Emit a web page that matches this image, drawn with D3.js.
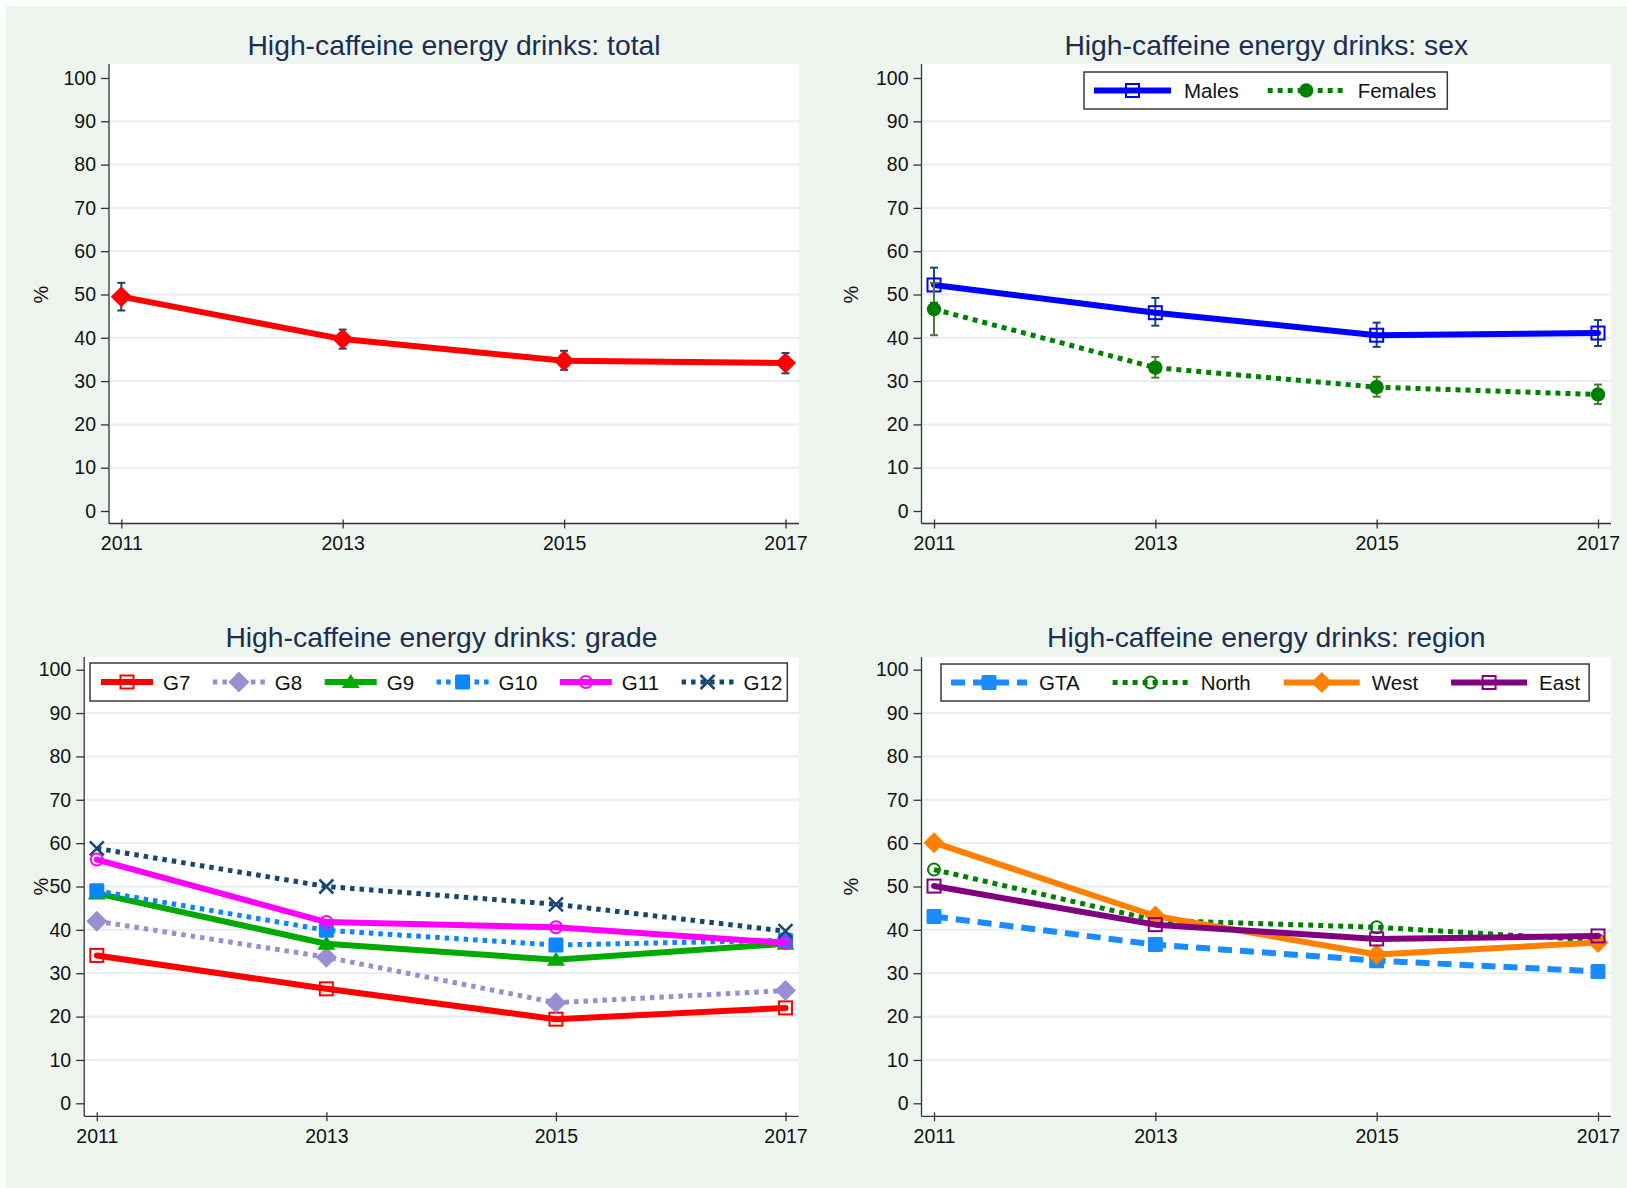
<!DOCTYPE html>
<html>
<head>
<meta charset="utf-8">
<script src="https://cdn.jsdelivr.net/npm/d3@7"></script>
<style>
  html, body { margin: 0; padding: 0; background: #ffffff; }
  svg { display: block; }
  text { font-family: "Liberation Sans", Arial, sans-serif; }
</style>
</head>
<body>
<svg id="chart" width="1627" height="1188"></svg>
<script>
// ---------------- DATA ----------------
const years = [2011, 2013, 2015, 2017];
const yTicks = [0, 10, 20, 30, 40, 50, 60, 70, 80, 90, 100];
const gridTicks = [10, 20, 30, 40, 50, 60, 70, 80, 90];

const titleTotal = "High-caffeine energy drinks: total";
const titleSex = "High-caffeine energy drinks: sex";
const titleGrade = "High-caffeine energy drinks: grade";
const titleRegion = "High-caffeine energy drinks: region";
const yLabel = "%";

// total
const totalValues = [49.5, 39.7, 34.7, 34.2];
const totalLower  = [46.3, 37.5, 32.6, 31.8];
const totalUpper  = [52.7, 41.9, 37.0, 36.5];

// sex
const sexNames = ["Males", "Females"];
const malesValues  = [52.2, 45.8, 40.6, 41.1];
const malesLower   = [48.1, 42.8, 37.9, 38.1];
const malesUpper   = [56.2, 49.2, 43.5, 44.1];
const femalesValues = [46.6, 33.1, 28.6, 26.9];
const femalesLower  = [40.6, 30.8, 26.4, 24.7];
const femalesUpper  = [52.7, 35.6, 31.0, 29.2];

// grade
const gradeNames = ["G7", "G8", "G9", "G10", "G11", "G12"];
const g7Values  = [34.1, 26.4, 19.4, 22.0];
const g8Values  = [42.0, 33.7, 23.2, 26.0];
const g9Values  = [48.4, 36.8, 33.1, 36.8];
const g10Values = [49.0, 39.9, 36.5, 37.6];
const g11Values = [56.2, 41.8, 40.6, 37.0];
const g12Values = [58.8, 50.0, 45.9, 39.7];

// region
const regionNames = ["GTA", "North", "West", "East"];
const gtaValues   = [43.1, 36.6, 32.9, 30.4];
const northValues = [53.9, 42.2, 40.6, 37.6];
const westValues  = [60.1, 43.2, 34.3, 37.1];
const eastValues  = [50.1, 41.2, 37.9, 38.6];

// ---------------- STYLE ----------------
const FONT = '"Liberation Sans", Arial, sans-serif';
const BG = "#eef5ef";
const GRID = "#e6eef1";
const TITLE_COLOR = "#1c2d52";
const NAVY = "#1a476f";
const OLIVE = "#55752f";

const svg = d3.select("#chart");
svg.append("rect").attr("x", 0).attr("y", 0).attr("width", 1627).attr("height", 1188).attr("fill", "#ffffff");
svg.append("rect").attr("x", 6).attr("y", 6).attr("width", 1621).attr("height", 1182).attr("fill", BG);

const panels = [
  {left: 109,   right: 799,  top: 64,  bottom: 523.5, y100: 78,    y0: 511,    x0: 121.3, x1: 785.5, titleY: 55,  labelX: 41,  title: titleTotal},
  {left: 921.5, right: 1611, top: 64,  bottom: 523.5, y100: 78,    y0: 511,    x0: 934,   x1: 1598,  titleY: 55,  labelX: 851, title: titleSex},
  {left: 84.2,  right: 798.6,top: 657, bottom: 1116.3,y100: 669.7, y0: 1103.3, x0: 96.8,  x1: 785.5, titleY: 647, labelX: 41,  title: titleGrade},
  {left: 921.5, right: 1611, top: 657, bottom: 1116.3,y100: 669.7, y0: 1103.3, x0: 934,   x1: 1598,  titleY: 647, labelX: 851, title: titleRegion}
];

function setupPanel(p) {
  const g = svg.append("g");
  const x = d3.scaleLinear().domain([2011, 2017]).range([p.x0, p.x1]);
  const y = d3.scaleLinear().domain([0, 100]).range([p.y0, p.y100]);
  g.append("rect").attr("x", p.left).attr("y", p.top)
    .attr("width", p.right - p.left).attr("height", p.bottom - p.top).attr("fill", "#ffffff");
  g.selectAll("line.grid").data(gridTicks).enter().append("line")
    .attr("x1", p.left + 1).attr("x2", p.right)
    .attr("y1", d => y(d)).attr("y2", d => y(d))
    .attr("stroke", GRID).attr("stroke-width", 2);
  const ya = g.append("g").attr("transform", `translate(${p.left},0)`)
    .call(d3.axisLeft(y).tickValues(yTicks).tickSize(8).tickPadding(5).tickFormat(d3.format("d")));
  ya.select(".domain").remove();
  ya.selectAll(".tick line").attr("stroke", "#333").attr("stroke-width", 1.3);
  ya.selectAll(".tick text").attr("font-family", FONT).attr("font-size", "19.5px").attr("fill", "#111");
  g.append("line").attr("x1", p.left).attr("x2", p.left).attr("y1", p.top).attr("y2", p.bottom)
    .attr("stroke", "#333").attr("stroke-width", 1.3);
  const xa = g.append("g").attr("transform", `translate(0,${p.bottom})`)
    .call(d3.axisBottom(x).tickValues(years).tickSize(5).tickPadding(8).tickFormat(d3.format("d")));
  xa.select(".domain").remove();
  xa.selectAll(".tick line").attr("y1", -4).attr("y2", 5).attr("stroke", "#333").attr("stroke-width", 1.3);
  xa.selectAll(".tick text").attr("font-family", FONT).attr("font-size", "19.5px").attr("fill", "#111");
  g.append("line").attr("x1", p.left).attr("x2", p.right).attr("y1", p.bottom).attr("y2", p.bottom)
    .attr("stroke", "#333").attr("stroke-width", 1.3);
  g.append("text").attr("x", (p.left + p.right) / 2).attr("y", p.titleY)
    .attr("text-anchor", "middle").attr("font-family", FONT).attr("font-size", "28.3px")
    .attr("fill", TITLE_COLOR).text(p.title);
  g.append("text").attr("transform", `translate(${p.labelX},${(p.y0 + p.y100) / 2}) rotate(-90)`)
    .attr("text-anchor", "middle").attr("dominant-baseline", "central")
    .attr("font-family", FONT).attr("font-size", "20px").attr("fill", "#111").text(yLabel);
  return {g, x, y};
}

function drawMarker(g, type, cx, cy, color) {
  let s;
  switch (type) {
    case "diamond":
      s = 10.5;
      g.append("path").attr("d", `M${cx},${cy - s}L${cx + s},${cy}L${cx},${cy + s}L${cx - s},${cy}Z`).attr("fill", color);
      break;
    case "squareHollow":
      s = 6.5;
      g.append("rect").attr("x", cx - s).attr("y", cy - s).attr("width", 2 * s).attr("height", 2 * s)
        .attr("fill", "none").attr("stroke", color).attr("stroke-width", 2);
      break;
    case "squareFilled":
      s = 7.5;
      g.append("rect").attr("x", cx - s).attr("y", cy - s).attr("width", 2 * s).attr("height", 2 * s)
        .attr("rx", 1.5).attr("fill", color);
      break;
    case "circleFilled":
      g.append("circle").attr("cx", cx).attr("cy", cy).attr("r", 7.2).attr("fill", color);
      break;
    case "circleHollow":
      g.append("circle").attr("cx", cx).attr("cy", cy).attr("r", 6)
        .attr("fill", "none").attr("stroke", color).attr("stroke-width", 2);
      break;
    case "triangle":
      g.append("path").attr("d", `M${cx},${cy - 8}L${cx + 9},${cy + 6}L${cx - 9},${cy + 6}Z`).attr("fill", color);
      break;
    case "x":
      s = 7;
      g.append("path").attr("d", `M${cx - s},${cy - s}L${cx + s},${cy + s}M${cx - s},${cy + s}L${cx + s},${cy - s}`)
        .attr("stroke", color).attr("stroke-width", 2.5).attr("fill", "none");
      break;
  }
}

function drawSeries(ctx, values, st) {
  const pts = years.map((yr, i) => [ctx.x(yr), ctx.y(values[i])]);
  const line = d3.line();
  ctx.g.append("path").attr("d", line(pts)).attr("fill", "none")
    .attr("stroke", st.color).attr("stroke-width", st.width)
    .attr("stroke-dasharray", st.dash || null)
    .attr("stroke-linejoin", "round").attr("stroke-linecap", st.dash ? "butt" : "round");
  pts.forEach(p => drawMarker(ctx.g, st.marker, p[0], p[1], st.mcolor || st.color));
}

function drawErrors(ctx, lower, upper, color) {
  years.forEach((yr, i) => {
    const cx = ctx.x(yr);
    const y1 = ctx.y(lower[i]), y2 = ctx.y(upper[i]);
    ctx.g.append("line").attr("x1", cx).attr("x2", cx).attr("y1", y1).attr("y2", y2)
      .attr("stroke", color).attr("stroke-width", 2);
    [y1, y2].forEach(yy => ctx.g.append("line").attr("x1", cx - 4).attr("x2", cx + 4)
      .attr("y1", yy).attr("y2", yy).attr("stroke", color).attr("stroke-width", 2));
  });
}

function drawLegend(g, items, opt) {
  const lg = g.append("g");
  const box = lg.append("rect").attr("x", opt.x).attr("y", opt.y).attr("height", opt.h)
    .attr("fill", "#ffffff").attr("stroke", "#3a3a3a").attr("stroke-width", 1.5);
  let cx = opt.x + opt.padL;
  const cy = opt.y + opt.h / 2;
  items.forEach((it, i) => {
    lg.append("line").attr("x1", cx).attr("x2", cx + opt.lineLen).attr("y1", cy).attr("y2", cy)
      .attr("stroke", it.color).attr("stroke-width", it.width)
      .attr("stroke-dasharray", it.dash || null).attr("stroke-linecap", "butt");
    drawMarker(lg, it.marker, cx + opt.lineLen / 2, cy, it.mcolor || it.color);
    const t = lg.append("text").attr("x", cx + opt.lineLen + opt.textGap).attr("y", cy)
      .attr("dominant-baseline", "central").attr("font-family", FONT).attr("font-size", "20.5px")
      .attr("fill", "#111").text(it.name);
    const tw = t.node().getComputedTextLength();
    const end = cx + opt.lineLen + opt.textGap + tw;
    if (i < items.length - 1) cx = end + opt.itemGap; else cx = end;
  });
  box.attr("width", cx + opt.padR - opt.x);
}

// ---------- Panel 1: total ----------
const c1 = setupPanel(panels[0]);
drawErrors(c1, totalLower, totalUpper, NAVY);
drawSeries(c1, totalValues, {color: "#ff0000", width: 6, marker: "diamond"});

// ---------- Panel 2: sex ----------
const c2 = setupPanel(panels[1]);
const sexStyles = [
  {color: "#0000ff", width: 6, marker: "squareHollow"},
  {color: "#008000", width: 5, dash: "5,5", marker: "circleFilled"}
];
drawErrors(c2, malesLower, malesUpper, NAVY);
drawSeries(c2, malesValues, sexStyles[0]);
drawErrors(c2, femalesLower, femalesUpper, OLIVE);
drawSeries(c2, femalesValues, sexStyles[1]);
drawLegend(c2.g, sexNames.map((n, i) => Object.assign({name: n}, sexStyles[i])),
  {x: 1084, y: 72, h: 37, padL: 10, padR: 11, lineLen: 77, textGap: 13, itemGap: 29});

// ---------- Panel 3: grade ----------
const c3 = setupPanel(panels[2]);
const gradeSeries = [g7Values, g8Values, g9Values, g10Values, g11Values, g12Values];
const gradeStyles = [
  {color: "#ff0000", width: 6, marker: "squareHollow"},
  {color: "#968fd2", width: 5, dash: "4.5,5", marker: "diamond"},
  {color: "#00aa00", width: 6, marker: "triangle"},
  {color: "#0a86ff", width: 5, dash: "4.5,5", marker: "squareFilled"},
  {color: "#ff00ff", width: 6, marker: "circleHollow"},
  {color: NAVY, width: 5, dash: "4.5,5", marker: "x"}
];
gradeSeries.forEach((vals, i) => drawSeries(c3, vals, gradeStyles[i]));
drawLegend(c3.g, gradeNames.map((n, i) => Object.assign({name: n}, gradeStyles[i])),
  {x: 90, y: 663, h: 38, padL: 11, padR: 5, lineLen: 52, textGap: 10, itemGap: 22.5});

// ---------- Panel 4: region ----------
const c4 = setupPanel(panels[3]);
const regionSeries = [gtaValues, northValues, westValues, eastValues];
const regionStyles = [
  {color: "#1a8cff", width: 6, dash: "14,8", marker: "squareFilled"},
  {color: "#008000", width: 5, dash: "5,5", marker: "circleHollow"},
  {color: "#ff8000", width: 6, marker: "diamond"},
  {color: "#800080", width: 6, marker: "squareHollow"}
];
regionSeries.forEach((vals, i) => drawSeries(c4, vals, regionStyles[i]));
drawLegend(c4.g, regionNames.map((n, i) => Object.assign({name: n}, regionStyles[i])),
  {x: 941, y: 664, h: 37, padL: 10, padR: 9, lineLen: 76, textGap: 12, itemGap: 33});
</script>
</body>
</html>
